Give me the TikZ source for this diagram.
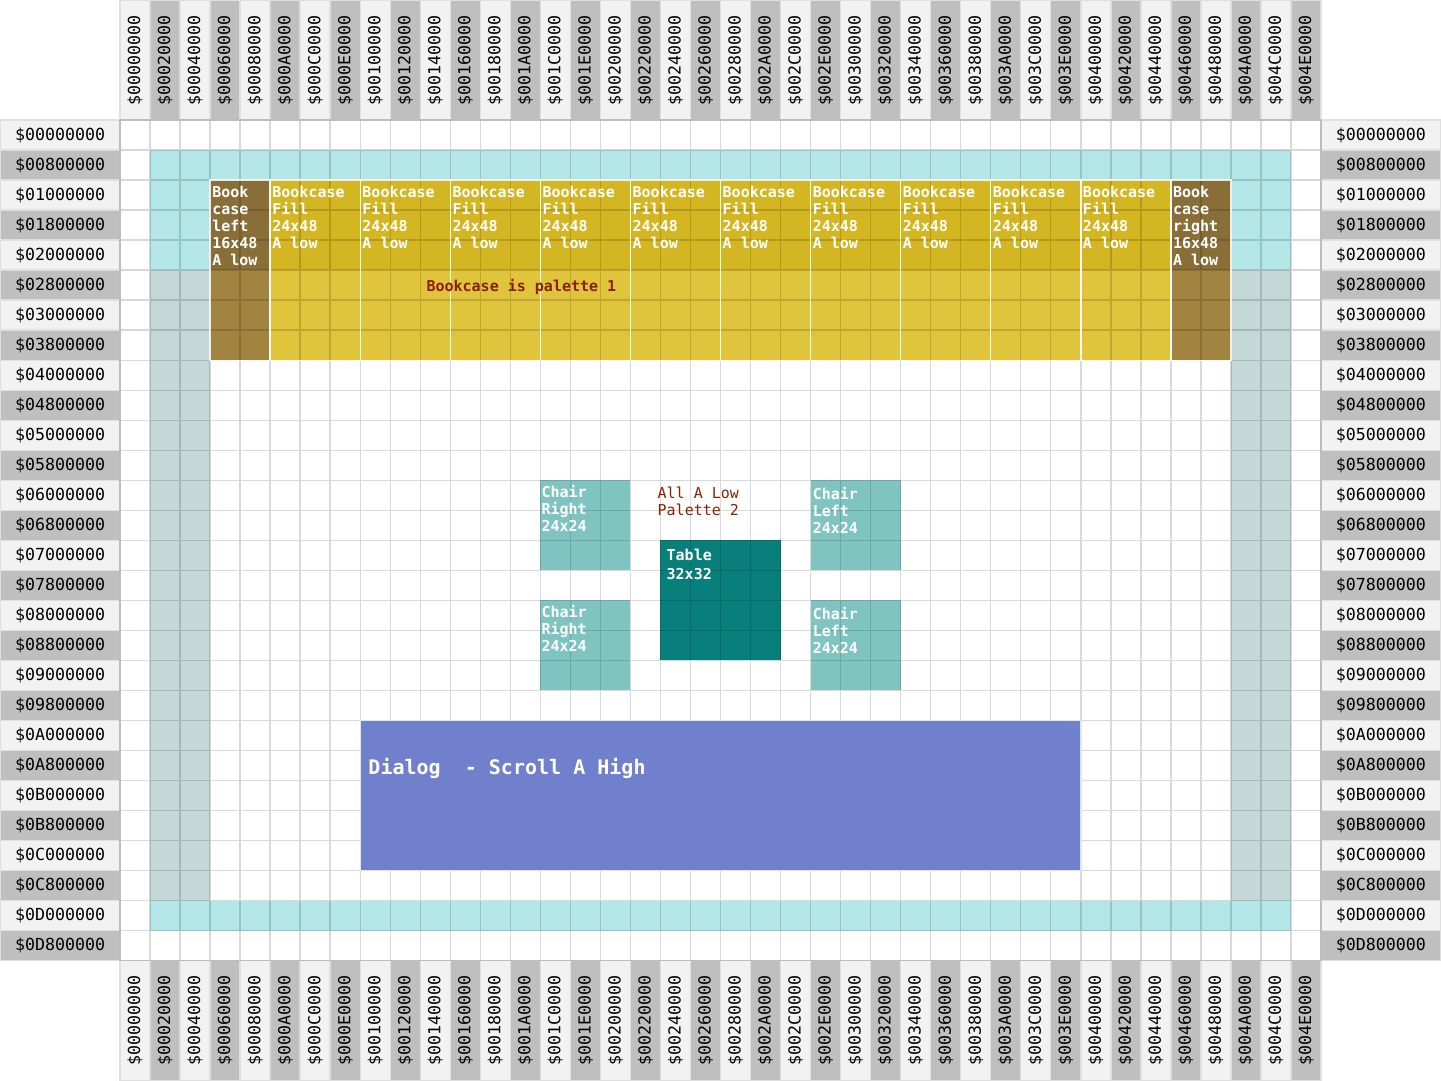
\documentclass[tikz,border=0pt]{standalone}
\usepackage{fontspec}
\setmonofont{DejaVu Sans Mono}
\usepackage{xcolor}
\usetikzlibrary{positioning}
\definecolor{band}{HTML}{B3E6E6}
\definecolor{side}{HTML}{C4D8D8}
\definecolor{topcase}{HTML}{8A6E38}
\definecolor{lowcase}{HTML}{A08440}
\definecolor{topfill}{HTML}{D4B622}
\definecolor{lowfill}{HTML}{E0C43C}
\definecolor{chair}{HTML}{80C4C2}
\definecolor{table}{HTML}{087F7A}
\definecolor{dialog}{HTML}{7080CC}
\definecolor{notered}{HTML}{8B2000}

\begin{document}
\begin{tikzpicture}[
    x=30pt, y=-30pt,
    hdr/.style={draw=gray!25, line width=1.5pt, minimum width=120pt, minimum height=30pt, inner sep=0pt, font=\ttfamily\fontsize{16.6}{18}\selectfont},
    colhdr/.style={hdr, rotate=90},
    tag/.style={anchor=north west, align=left, inner xsep=2pt, inner ysep=6pt, text=white, font=\ttfamily\bfseries\fontsize{15}{17}\selectfont},
    note/.style={anchor=north west, align=left, inner sep=0pt, text=notered, font=\ttfamily\fontsize{15}{17}\selectfont},
    gridline/.style={black, opacity=.15, line width=1.5pt, xstep=30pt, ystep=30pt},
    shelf/.style={draw=white, draw opacity=.85, line width=1.5pt}
]
    \useasboundingbox (-4,-4) rectangle (44,32);
    \fill[white] (-4,-4) rectangle (44,32);

    \foreach \h [count=\i from 0] in {00,02,04,06,08,0A,0C,0E,10,12,14,16,18,1A,1C,1E,20,22,24,26,28,2A,2C,2E,30,32,34,36,38,3A,3C,3E,40,42,44,46,48,4A,4C,4E} {
        \pgfmathtruncatemacro\tone{10+40*mod(\i,2)}
        \node[colhdr, fill=gray!\tone] (top\h) at (\i+.5,-2) {\$00\h0000};
        \node[colhdr, fill=gray!\tone] (bot\h) at (\i+.5,30) {\$00\h0000};
    }
    \foreach \h [count=\r from 0] in {00,08,10,18,20,28,30,38,40,48,50,58,60,68,70,78,80,88,90,98,A0,A8,B0,B8,C0,C8,D0,D8} {
        \pgfmathtruncatemacro\tone{10+40*mod(\r,2)}
        \node[hdr, fill=gray!\tone] (left\h) at (-2,\r+.5) {\$0\h00000};
        \node[hdr, fill=gray!\tone] (right\h) at (42,\r+.5) {\$0\h00000};
    }

    \fill[band] (1,1) rectangle (39,5);
    \fill[band] (1,26) rectangle (39,27);
    \fill[side] (1,5) rectangle (3,26);
    \fill[side] (37,5) rectangle (39,26);

    \foreach \x/\w/\c in {3/2/case,5/3/fill,8/3/fill,11/3/fill,14/3/fill,17/3/fill,20/3/fill,23/3/fill,26/3/fill,29/3/fill,32/3/fill,35/2/case} {
        \fill[top\c] (\x,2) rectangle ++(\w,3);
        \fill[low\c] (\x,5) rectangle ++(\w,3);
    }

    \fill[chair] (14,12) rectangle (17,15);
    \fill[chair] (14,16) rectangle (17,19);
    \fill[chair] (23,12) rectangle (26,15);
    \fill[chair] (23,16) rectangle (26,19);
    \fill[table] (18,14) rectangle (22,18);

    \draw[gridline] (0,0) grid (40,28);
    \foreach \x/\w in {3/2,5/3,8/3,11/3,14/3,17/3,20/3,23/3,26/3,29/3,32/3,35/2}
        \draw[shelf] (\x,2) rectangle ++(\w,6);

    \filldraw[fill=dialog, draw=gray!20, line width=1.5pt] (8,20) rectangle (32,25);

    \node[tag] (caseleft) at (3,2) {Book\\case\\left\\16x48\\A low};
    \foreach \x [count=\k] in {5,8,11,14,17,20,23,26,29,32}
        \node[tag] (casefill\k) at (\x,2) {Bookcase\\Fill\\24x48\\A low};
    \node[tag] (caseright) at (35,2) {Book\\case\\right\\16x48\\A low};
    \node[note, font=\ttfamily\bfseries\fontsize{15}{17}\selectfont] (palette1) at (10.2,5.3) {Bookcase is palette 1};

    \node[tag, inner xsep=1pt, inner ysep=5pt] (chairright1) at (14,12) {Chair\\Right\\24x24};
    \node[tag, inner xsep=1pt, inner ysep=5pt] (chairright2) at (14,16) {Chair\\Right\\24x24};
    \node[tag, inner ysep=7pt] (chairleft1) at (23,12) {Chair\\Left\\24x24};
    \node[tag, inner ysep=7pt] (chairleft2) at (23,16) {Chair\\Left\\24x24};
    \node[tag, inner xsep=6pt, inner ysep=9pt, font=\ttfamily\bfseries\fontsize{15}{18}\selectfont] (tablelbl) at (18,14) {Table\\32x32};
    \node[note] (palette2) at (17.9,12.2) {All A Low\\Palette 2};

    \node[anchor=west, inner xsep=8pt, text=white, font=\ttfamily\bfseries\fontsize{20}{22}\selectfont] (dialoglbl) at (8,21.6) {Dialog\ \ - Scroll A High};
\end{tikzpicture}
\end{document}
